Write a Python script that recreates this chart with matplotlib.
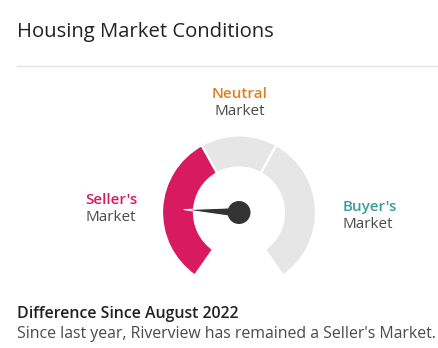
"""
Gauge card showing the current housing market condition for Riverview.
"""

import numpy as np
import matplotlib.pyplot as plt
from matplotlib.patches import Wedge, Polygon, Circle


OUTPUT_FILE_PATH = 'out.png'

# Market bands on a 0-100 scale, seller's market on the left.
BAND_NAMES = ["Seller's", 'Neutral', "Buyer's"]
BAND_EDGES = [0, 40, 60, 100]
CURRENT_VALUE = 20
ACTIVE_BAND = 0

TITLE = 'Housing Market Conditions'
SUBTITLE = 'Difference Since August 2022'
SUMMARY = "Since last year, Riverview has remained a Seller's Market."

BAND_COLORS = ['#D81B60', '#E07E27', '#3A9D96']
INACTIVE_COLOR = '#E6E6E6'
TEXT_COLOR = '#222222'
LABEL_COLOR = '#4A4A4A'
NEEDLE_COLOR = '#333333'

WIDTH, HEIGHT = 439, 348
CENTER = (239, HEIGHT - 212.5)
OUTER_RADIUS = 77
RING_WIDTH = 32
START_ANGLE = 235
END_ANGLE = -55

FONT = 'Open Sans'


def main():

    fig = plt.figure(figsize=(WIDTH / 100, HEIGHT / 100), dpi=100)
    axes = fig.add_axes([0, 0, 1, 1])
    axes.set_xlim(0, WIDTH)
    axes.set_ylim(0, HEIGHT)
    axes.set_aspect('equal')
    axes.axis('off')

    draw_header(axes)
    draw_gauge(axes)
    draw_band_labels(axes)
    draw_footer(axes)

    fig.savefig(OUTPUT_FILE_PATH, dpi=100, facecolor='white')
    plt.close(fig)


def value_to_angle(value):
    fraction = (value - BAND_EDGES[0]) / (BAND_EDGES[-1] - BAND_EDGES[0])
    return START_ANGLE + fraction * (END_ANGLE - START_ANGLE)


def draw_header(axes):
    axes.text(17, HEIGHT - 36.5, TITLE, fontsize=14.6, family=FONT,
              weight='medium', color=TEXT_COLOR, va='baseline', ha='left')
    axes.plot([17, WIDTH], [HEIGHT - 66, HEIGHT - 66], color='#E3E3E3',
              linewidth=1)


def draw_gauge(axes):

    # Ring segments, with a thin white gap between neighbours.
    for i in range(len(BAND_NAMES)):
        start = value_to_angle(BAND_EDGES[i])
        end = value_to_angle(BAND_EDGES[i + 1])
        color = BAND_COLORS[i] if i == ACTIVE_BAND else INACTIVE_COLOR
        wedge = Wedge(CENTER, OUTER_RADIUS, end, start, width=RING_WIDTH,
                      facecolor=color, edgecolor='white', linewidth=1.6)
        axes.add_patch(wedge)

    # Needle, tapering from the hub to a point.
    angle = np.radians(value_to_angle(CURRENT_VALUE))
    length = 55
    half_width = 5
    cx, cy = CENTER
    tip = (cx + length * np.cos(angle), cy + length * np.sin(angle))
    normal = (-np.sin(angle), np.cos(angle))
    base_a = (cx + half_width * normal[0], cy + half_width * normal[1])
    base_b = (cx - half_width * normal[0], cy - half_width * normal[1])
    needle = Polygon([tip, base_a, base_b], closed=True,
                     facecolor=NEEDLE_COLOR, edgecolor='white',
                     linewidth=0.8, joinstyle='round')
    axes.add_patch(needle)
    axes.add_patch(Circle(CENTER, 11.5, facecolor=NEEDLE_COLOR,
                          edgecolor='none'))


def draw_band_labels(axes):

    positions = [
        (111, 204.5, 'center'),
        (240, 98.5, 'center'),
        (343, 211, 'left'),
    ]

    for name, color, (x, y, ha) in zip(BAND_NAMES, BAND_COLORS, positions):
        axes.text(x, HEIGHT - y, name, fontsize=11, family=FONT,
                  weight='semibold', color=color, ha=ha, va='baseline')
        axes.text(x, HEIGHT - y - 16.5, 'Market', fontsize=11, family=FONT,
                  color=LABEL_COLOR, ha=ha, va='baseline')


def draw_footer(axes):
    axes.text(17, HEIGHT - 317.5, SUBTITLE, fontsize=11.4, family=FONT,
              weight='semibold', color=TEXT_COLOR, ha='left', va='baseline')
    axes.text(17, HEIGHT - 337.5, SUMMARY, fontsize=11.4, family=FONT,
              color=LABEL_COLOR, ha='left', va='baseline')


if __name__ == '__main__':
    main()
